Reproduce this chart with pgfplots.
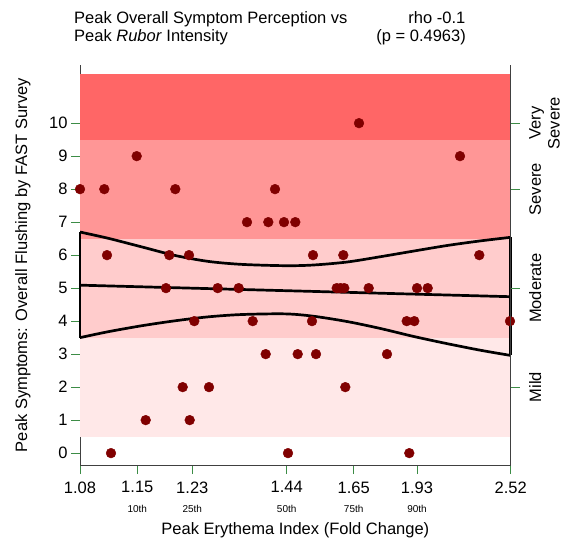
\documentclass[border=0pt]{standalone}
\usepackage{fontspec}
\setmainfont{Liberation Sans}
\usepackage{pgfplots}
\pgfplotsset{compat=1.18}
\definecolor{vsev}{RGB}{255,102,102}
\definecolor{sev}{RGB}{255,150,150}
\definecolor{mod}{RGB}{255,204,204}
\definecolor{mild}{RGB}{255,232,232}
\definecolor{tickgreen}{RGB}{60,140,70}
\definecolor{dotred}{RGB}{128,0,0}
\newcommand{\bigf}{\fontsize{16.5}{19}\selectfont}
\newcommand{\smallf}{\fontsize{10}{12}\selectfont}
\begin{document}
\begin{tikzpicture}
\useasboundingbox (0,0) rectangle (568pt,544pt);
\begin{axis}[
 at={(80pt,79pt)}, anchor=south west,
 scale only axis, width=430.7pt, height=399.6pt,
 xmin=0, xmax=430.7, ymin=-0.36, ymax=11.75,
 axis x line*=bottom, axis y line*=left,
 axis line style={black!75, line width=1pt, -},
 tick align=outside, major tick length=9pt,
 tick style={tickgreen, line width=1pt},
 xtick={0,57.3,112.3,206.7,273.7,337,430.7},
 xticklabels={1.08,1.15,1.23,1.44,1.65,1.93,2.52},
 xticklabel shift=4pt,
 ytick={0,...,10},
 /pgf/number format/assume math mode=true,
 ticklabel style={font=\bigf},
 label style={font=\bigf},
 xlabel={Peak Erythema Index (Fold Change)},
 ylabel={Peak Symptoms: Overall Flushing by FAST Survey},
 xlabel style={at={(axis description cs:0.5,-0.1734)}, anchor=base},
 ylabel style={at={(axis description cs:-0.1230,0.5)}, anchor=base},
 clip=false,
]
% severity bands
\addplot[draw=none, fill=mild] coordinates {(0,0.5) (430.7,0.5) (430.7,3.5) (0,3.5)};
\addplot[draw=none, fill=mod] coordinates {(0,3.5) (430.7,3.5) (430.7,6.5) (0,6.5)};
\addplot[draw=none, fill=sev] coordinates {(0,6.5) (430.7,6.5) (430.7,9.5) (0,9.5)};
\addplot[draw=none, fill=vsev] coordinates {(0,9.5) (430.7,9.5) (430.7,11.5) (0,11.5)};
% regression line and confidence band
\addplot[black, line width=2.7pt] coordinates {(0,5.09) (430.7,4.74)};
\addplot[black, line width=2.7pt, smooth] coordinates {
(0,6.70) (28.3,6.51) (61.7,6.25) (95,5.99) (128.3,5.81) (161.7,5.72) (205,5.68) (233,5.70) (266.7,5.79) (300,5.95) (333,6.12) (366.7,6.29) (400,6.43) (430.7,6.54)};
\addplot[black, line width=2.7pt, smooth] coordinates {
(0,3.50) (28.3,3.68) (61.7,3.86) (95,4.01) (128.3,4.13) (161.7,4.20) (205,4.22) (233,4.15) (266.7,3.99) (300,3.78) (333,3.54) (366.7,3.32) (400,3.12) (430.7,2.96)};
\addplot[black, line width=2.7pt] coordinates {(0,3.50) (0,6.70)};
\addplot[black, line width=2.7pt] coordinates {(430.7,2.96) (430.7,6.54)};
% data points
\addplot[only marks, mark=*, mark size=4.9pt, mark options={draw=dotred, fill=dotred}] table {
u y
279 10
56.7 9
380 9
0 8
24.3 8
95.3 8
195 8
167 7
188.3 7
204 7
215.3 7
27 6
89.3 6
109 6
233 6
263.3 6
399.3 6
86 5
137.7 5
158.7 5
256.7 5
260.5 5
264.3 5
288.7 5
337 5
347.7 5
114.3 4
172.7 4
232 4
326.7 4
334.3 4
430 4
185.7 3
217.7 3
236 3
307 3
102.7 2
129 2
265.3 2
65.7 1
109.7 1
31 0
208 0
329.3 0
};
% percentile labels
\node[font=\smallf, anchor=base, inner sep=0] at (axis cs:57.3,-0.36) [yshift=-47pt] {10th};
\node[font=\smallf, anchor=base, inner sep=0] at (axis cs:112.3,-0.36) [yshift=-47pt] {25th};
\node[font=\smallf, anchor=base, inner sep=0] at (axis cs:206.7,-0.36) [yshift=-47pt] {50th};
\node[font=\smallf, anchor=base, inner sep=0] at (axis cs:273.7,-0.36) [yshift=-47pt] {75th};
\node[font=\smallf, anchor=base, inner sep=0] at (axis cs:337,-0.36) [yshift=-47pt] {90th};
\end{axis}
\begin{axis}[
 at={(80pt,79pt)}, anchor=south west,
 scale only axis, width=430.7pt, height=399.6pt,
 xmin=0, xmax=430.7, ymin=-0.36, ymax=11.75,
 axis x line=none, axis y line*=right,
 axis line style={black!75, line width=1pt, -},
 tick align=outside, major tick length=9pt,
 tick style={tickgreen, line width=1pt},
 ytick={2,5,8,10},
 yticklabels={Mild,Moderate,Severe,{Very\\Severe}},
 yticklabel shift=6pt,
 yticklabel style={font=\bigf, rotate=90, anchor=north, align=center},
]
\addplot[draw=none] coordinates {(0,0)};
\end{axis}
\node[anchor=base west, inner sep=0, font=\bigf] at (74pt,520.7pt) {Peak Overall Symptom Perception vs};
\node[anchor=base west, inner sep=0, font=\bigf] at (74pt,502pt) {Peak \textit{Rubor} Intensity};
\node[anchor=base east, inner sep=0, font=\bigf] at (465.5pt,520.7pt) {rho -0.1};
\node[anchor=base east, inner sep=0, font=\bigf] at (466pt,502pt) {(p = 0.4963)};
\end{tikzpicture}
\end{document}
